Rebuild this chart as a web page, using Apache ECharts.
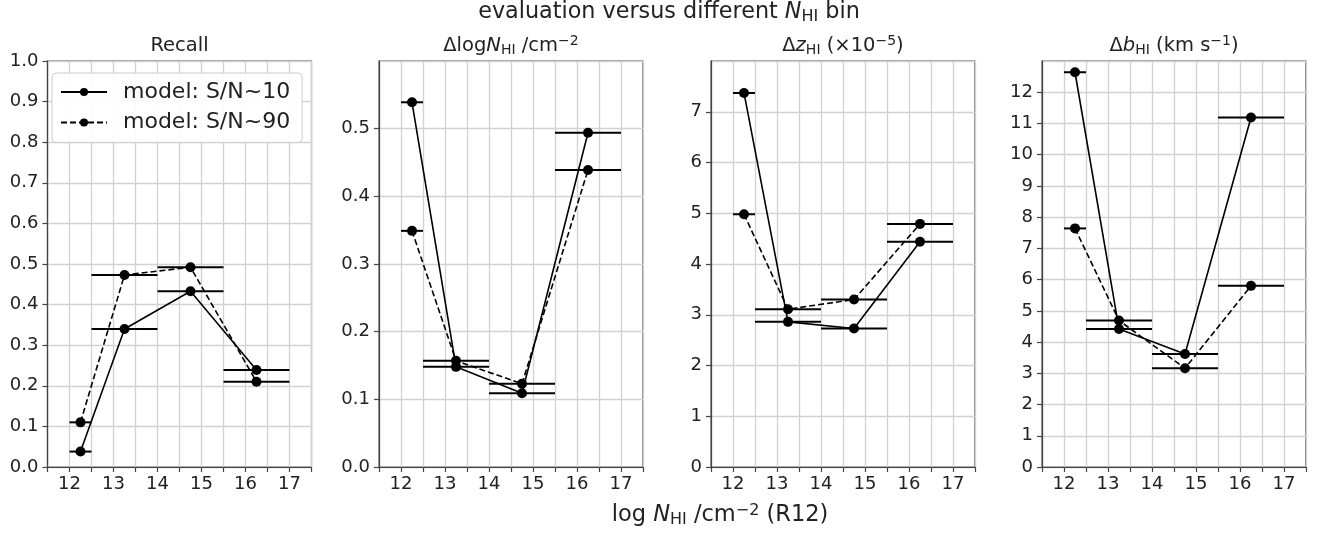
<!DOCTYPE html>
<html>
<head>
<meta charset="utf-8">
<script src="https://cdn.jsdelivr.net/npm/echarts@6/dist/echarts.min.js"></script>
<style>
html, body { margin: 0; padding: 0; background: #fff; }
#chart { width: 1320px; height: 534px; }
</style>
</head>
<body>
<div id="chart"></div>
<script>
// bins in log N_HI, one point per bin
var binCenters = [12.25, 13.25, 14.75, 16.25];
var binLow = [12, 12.5, 14, 15.5];
var binHigh = [12.5, 14, 15.5, 17];

var recallSN10 = [0.038, 0.340, 0.433, 0.239];
var recallSN90 = [0.110, 0.473, 0.492, 0.210];
var dlogNSN10 = [0.539, 0.148, 0.109, 0.494];
var dlogNSN90 = [0.349, 0.157, 0.123, 0.439];
var dzSN10 = [7.37, 2.86, 2.73, 4.44];
var dzSN90 = [4.98, 3.11, 3.30, 4.79];
var dbSN10 = [12.64, 4.42, 3.62, 11.19];
var dbSN90 = [7.64, 4.69, 3.16, 5.80];

var seriesNames = ['model: S/N~10', 'model: S/N~90'];
var panelTitles = [
    'Recall',
    'Δlog{i|N}{sub|HI} /cm{sup|−2}',
    'Δ{i|z}{sub|HI} (×10{sup|−5})',
    'Δ{i|b}{sub|HI} (km s{sup|−1})'
];
var yMax = [1.0, 0.6, 8, 13];
var yStep = [0.1, 0.1, 1, 1];
var yDigits = [1, 1, 0, 0];
var showTopLabel = [true, false, false, false];
var panelData = [
    [recallSN10, recallSN90],
    [dlogNSN10, dlogNSN90],
    [dzSN10, dzSN90],
    [dbSN10, dbSN90]
];

var FONT = 'DejaVu Sans';
var TEXT = '#222';
var AX = '#444';
var GRIDC = '#d2d2d2';
var gridLeft = [47.5, 379, 711, 1042];
var gridTop = 61, gridW = 264, gridH = 406;

function richFor (size) {
    return {
        i: { fontStyle: 'italic', fontSize: size, fontFamily: FONT, color: TEXT },
        sub: { fontSize: Math.round(size * 0.7), lineHeight: Math.round(size * 0.7), verticalAlign: 'bottom', fontFamily: FONT, color: TEXT },
        sup: { fontSize: Math.round(size * 0.7), lineHeight: Math.round(size * 0.7), verticalAlign: 'top', fontFamily: FONT, color: TEXT }
    };
}

function textTitle (text, x, y, size, lh) {
    return {
        text: text, left: x, top: y, textAlign: 'center', padding: 0,
        textStyle: { fontSize: size, lineHeight: lh, fontWeight: 'normal', fontFamily: FONT, color: TEXT, rich: richFor(size) }
    };
}

function renderErr (params, api) {
    var a = api.coord([api.value(0), api.value(2)]);
    var b = api.coord([api.value(1), api.value(2)]);
    return {
        type: 'line',
        shape: { x1: a[0], y1: a[1], x2: b[0], y2: b[1] },
        style: { stroke: '#000', lineWidth: 2 }
    };
}

var titles = [textTitle('evaluation versus different {i|N}{sub|HI} bin', 669, 0, 22.3, 25)];
var grids = [], xAxes = [], yAxes = [], series = [];

panelData.forEach(function (pair, i) {
    titles.push(textTitle(panelTitles[i], gridLeft[i] + gridW / 2, 34.5, 19.5, 23));
    grids.push({
        left: gridLeft[i], top: gridTop, width: gridW, height: gridH,
        show: true, borderColor: AX, borderWidth: 1.2, outerBoundsMode: 'none'
    });
    xAxes.push({
        type: 'value', gridIndex: i, min: 11.5, max: 17.5, interval: 0.5,
        axisLine: { show: true, onZero: false, lineStyle: { color: AX, width: 1.2 } },
        axisTick: { show: true, length: 5, lineStyle: { color: AX, width: 1.2 } },
        axisLabel: {
            margin: 8, fontSize: 18, color: TEXT, fontFamily: FONT,
            formatter: function (v) { return Number.isInteger(v) ? String(v) : ''; }
        },
        splitLine: { show: true, lineStyle: { color: GRIDC, width: 1.3 } }
    });
    yAxes.push({
        type: 'value', gridIndex: i, min: 0, max: yMax[i], interval: yStep[i],
        axisLine: { show: true, onZero: false, lineStyle: { color: AX, width: 1.2 } },
        axisTick: { show: true, length: 5, lineStyle: { color: AX, width: 1.2 } },
        axisLabel: {
            margin: 9, fontSize: 18, color: TEXT, fontFamily: FONT,
            showMaxLabel: showTopLabel[i],
            formatter: function (v) { return v.toFixed(yDigits[i]); }
        },
        splitLine: { show: true, lineStyle: { color: GRIDC, width: 1.3 } }
    });
    pair.forEach(function (vals, k) {
        series.push({
            type: 'custom', xAxisIndex: i, yAxisIndex: i, silent: true,
            renderItem: renderErr,
            encode: { x: [0, 1], y: 2 },
            data: binLow.map(function (lo, j) { return [lo, binHigh[j], vals[j]]; })
        });
        series.push({
            type: 'line', name: seriesNames[k], xAxisIndex: i, yAxisIndex: i,
            symbol: 'circle', symbolSize: 10,
            lineStyle: { color: '#000', width: 1.6, type: k ? [6, 3] : 'solid' },
            itemStyle: { color: '#000' },
            data: binCenters.map(function (x, j) { return [x, vals[j]]; })
        });
    });
});

titles.push(textTitle('log {i|N}{sub|HI} /cm{sup|−2} (R12)', 720, 503, 22.5, 25));

var chart = echarts.init(document.getElementById('chart'));
chart.setOption({
    animation: false,
    backgroundColor: '#fff',
    title: titles,
    legend: {
        data: seriesNames, orient: 'vertical', left: 52, top: 73,
        itemWidth: 46, itemHeight: 10, itemGap: 8.5,
        padding: [8, 12, 9, 8],
        backgroundColor: 'rgba(255,255,255,0.9)', borderColor: '#cccccc', borderWidth: 1, borderRadius: 4,
        textStyle: { fontSize: 22, color: TEXT, fontFamily: FONT, padding: [0, 0, 0, 11] },
        selectedMode: false
    },
    grid: grids,
    xAxis: xAxes,
    yAxis: yAxes,
    series: series
});
</script>
</body>
</html>
